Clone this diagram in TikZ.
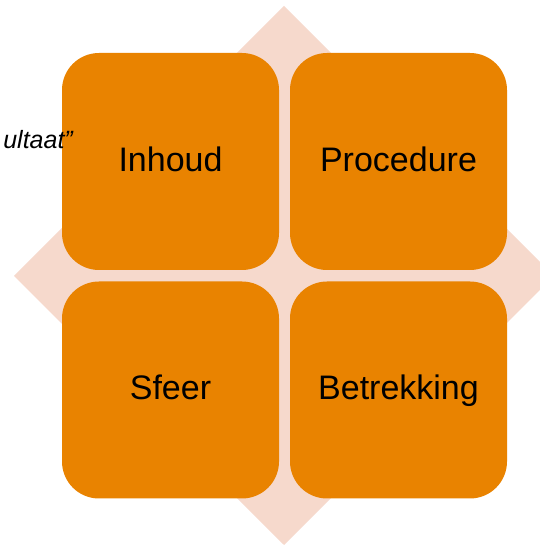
\documentclass[tikz,border=0pt]{standalone}
\usepackage{fontspec}
\setmainfont{Liberation Sans}
\definecolor{boxorange}{RGB}{233,131,0}
\definecolor{diamondpink}{RGB}{246,217,204}
\tikzset{
  quad/.style={fill=boxorange, draw=none, minimum width=217pt, minimum height=217pt,
    rounded corners=37pt, inner sep=0pt, font=\fontsize{34}{38}\selectfont,
    text height=24pt, text depth=4pt, text=black},
}
\begin{document}
\begin{tikzpicture}[x=1pt,y=1pt]
\useasboundingbox (0,0) rectangle (540,546);
\clip (0,0) rectangle (540,546);
\fill[diamondpink] (284,540) -- (554,270) -- (284,1) -- (14,270) -- cycle;
\node[quad] (inhoud) at (170.5,384.5) {Inhoud};
\node[quad] (procedure) at (398.5,384.5) {Procedure};
\node[quad] (sfeer) at (170.5,156) {Sfeer};
\node[quad] (betrekking) at (398.5,156) {Betrekking};
\node[anchor=base east, inner sep=0pt, font=\fontsize{25}{28}\selectfont\itshape] (resultaat) at (73,397) {ultaat”};
\end{tikzpicture}
\end{document}
